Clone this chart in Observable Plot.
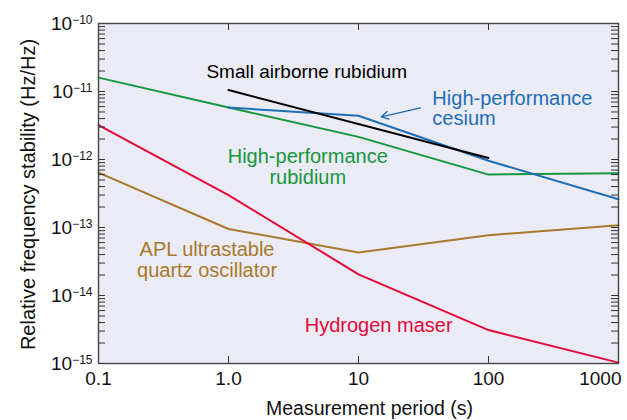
<!DOCTYPE html>
<html><head><meta charset="utf-8">
<script src="https://cdn.jsdelivr.net/npm/d3@7"></script>
<script src="https://cdn.jsdelivr.net/npm/@observablehq/plot@0.6"></script>
<style>
body{margin:0;background:#fff;}
svg{font-family:"Liberation Sans",Arial,Helvetica,sans-serif;}
</style>
</head><body><div id="chart"></div>
<script>
// Measurement periods (s)
const periods = [0.1, 1, 10, 100, 1000];
const rubidiumHP = [1.6e-11, 5.8e-12, 2.15e-12, 6.0e-13, 6.3e-13];
const hydrogenMaser = [3.2e-12, 3.0e-13, 2.05e-14, 3.1e-15, 1.03e-15];
const quartzAPL = [6.4e-13, 9.5e-14, 4.3e-14, 7.7e-14, 1.08e-13];
const cesiumPeriods = [1, 10, 100, 1000];
const cesiumHP = [5.8e-12, 4.4e-12, 9.6e-13, 2.6e-13];
const airbornePeriods = [1, 100];
const airborneRb = [1.05e-11, 1.05e-12];

const xTickValues = [0.1, 1, 10, 100, 1000];
const xTickLabels = ["0.1", "1.0", "10", "100", "1000"];
const yTickValues = [1e-15, 1e-14, 1e-13, 1e-12, 1e-11, 1e-10];
const yMinorTicks = [];
for (let e = -15; e < -10; e++) for (let m = 1; m <= 9; m++) yMinorTicks.push(m * Math.pow(10, e));
yMinorTicks.push(1e-10);
const xMajorInner = [1, 10, 100];

const centeredLabels = [
  {text: "Small airborne rubidium", x: 4.0, y: 1.95e-11, color: "#000000", size: 19},
  {text: "High-performance\nrubidium", x: 4.07, y: 7.9e-13, color: "#15973d", size: 20},
  {text: "APL ultrastable\nquartz oscillator", x: 0.684, y: 3.3e-14, color: "#a8792d", size: 20},
  {text: "Hydrogen maser", x: 14.3, y: 3.67e-15, color: "#e2083a", size: 20}
];
const startLabels = [
  {text: "High-performance\ncesium", x: 37, y: 5.57e-12, color: "#1e6eb7", size: 20}
];
const arrowData = [{x1: 30, y1: 5.76e-12, x2: 15, y2: 4.25e-12}];

const toRows = (xs, ys) => xs.map((p, i) => ({period: p, value: ys[i]}));

const chart = Plot.plot({
  width: 627,
  height: 420,
  marginLeft: 98,
  marginRight: 9,
  marginTop: 23,
  marginBottom: 57,
  style: {fontSize: "19px", fontFamily: "'Liberation Sans', Arial, sans-serif", background: "#fff", overflow: "visible"},
  x: {type: "log", domain: [0.1, 1000], axis: null},
  y: {type: "log", domain: [1e-15, 1e-10], axis: null},
  marks: [
    Plot.frame({fill: "#ebebf5", stroke: null}),
    Plot.line(toRows(periods, rubidiumHP), {x: "period", y: "value", stroke: "#15973d", strokeWidth: 2}),
    Plot.line(toRows(periods, quartzAPL), {x: "period", y: "value", stroke: "#a8792d", strokeWidth: 2}),
    Plot.line(toRows(periods, hydrogenMaser), {x: "period", y: "value", stroke: "#e2083a", strokeWidth: 2}),
    Plot.line(toRows(cesiumPeriods, cesiumHP), {x: "period", y: "value", stroke: "#1e6eb7", strokeWidth: 2}),
    Plot.line(toRows(airbornePeriods, airborneRb), {x: "period", y: "value", stroke: "#000", strokeWidth: 2}),
    Plot.arrow(arrowData, {x1: "x1", y1: "y1", x2: "x2", y2: "y2", stroke: "#1e6eb7", strokeWidth: 1.3, headLength: 9}),
    Plot.text(centeredLabels, {x: "x", y: "y", text: "text", fill: "color", fontSize: "size", textAnchor: "middle", lineHeight: 1.05}),
    Plot.text(startLabels, {x: "x", y: "y", text: "text", fill: "color", fontSize: "size", textAnchor: "start", lineHeight: 1.0}),
    // ticks
    Plot.ruleY(yMinorTicks, {y: d => d, insetRight: 513, stroke: "#333", strokeWidth: 1}),
    Plot.ruleY(yMinorTicks, {y: d => d, insetLeft: 513, stroke: "#333", strokeWidth: 1}),
    Plot.ruleX(xMajorInner, {x: d => d, insetTop: 333, stroke: "#333", strokeWidth: 1}),
    Plot.ruleX(xMajorInner, {x: d => d, insetBottom: 333, stroke: "#333", strokeWidth: 1}),
    Plot.frame({stroke: "#444", strokeWidth: 1.4}),
    Plot.axisX(xTickValues, {tickSize: 0, tickPadding: 8, fontSize: 19, tickFormat: d => xTickLabels[xTickValues.indexOf(d)], fill: "#111"}),
    Plot.axisY(yTickValues, {tickSize: 0, tickPadding: 6, fontSize: 19, tickFormat: d => String(Math.round(Math.log10(d))), fill: "#111"}),
    Plot.text(["Measurement period (s)"], {frameAnchor: "bottom", text: d => d, textAnchor: "middle", lineAnchor: "middle", dx: 11, dy: 45, fontSize: 19.5, fill: "#111"}),
    Plot.text(["Relative frequency stability (Hz/Hz)"], {frameAnchor: "left", text: d => d, textAnchor: "middle", lineAnchor: "middle", rotate: -90, dx: -70, dy: 1, fontSize: 20, fill: "#111"})
  ]
});

// superscript exponents on y tick labels
d3.select(chart).selectAll('g[aria-label="y-axis tick label"] text').each(function () {
  const t = d3.select(this);
  const exp = t.text().replace("-", "\u2212");
  t.text(null);
  t.append("tspan").text("10");
  t.append("tspan").attr("font-size", 12).attr("dy", "-0.45em").text(exp);
});
// shift the last x tick label so it ends near the right edge
const xl = d3.select(chart).selectAll('g[aria-label="x-axis tick label"] text');
xl.filter(function () { return d3.select(this).text() === "1000"; }).attr("text-anchor", "end").attr("dx", 3);

document.getElementById("chart").appendChild(chart);
</script>
</body></html>
